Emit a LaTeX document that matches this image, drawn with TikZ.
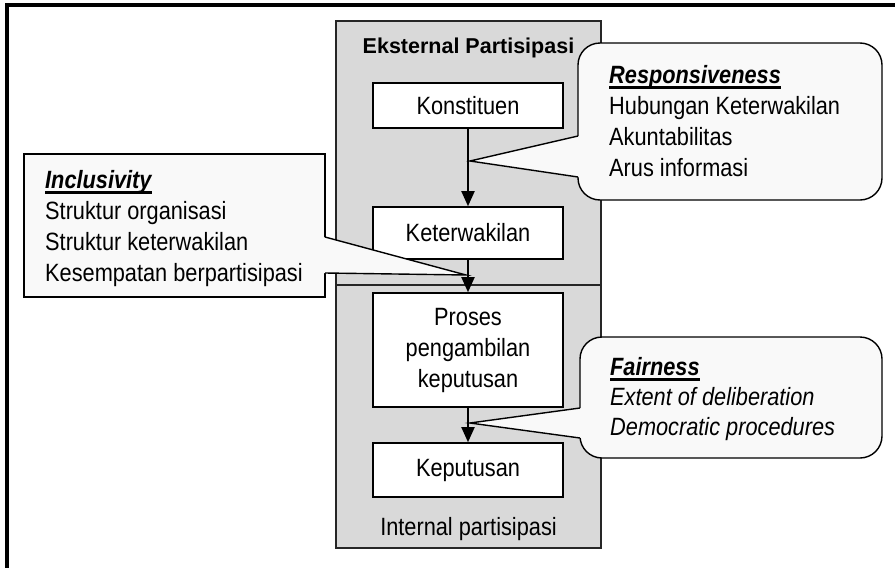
\documentclass[tikz,border=0pt]{standalone}
\usepackage{fontspec}
\setmainfont{Liberation Sans}[FakeStretch=0.87]
\newfontfamily\titlefont{Liberation Sans}[FakeStretch=1.0]
\usetikzlibrary{arrows.meta}
\usetikzlibrary{positioning}
\definecolor{notefill}{gray}{0.975}
\newsavebox{\ulbox}
\newcommand{\uln}[1]{\sbox{\ulbox}{#1}\makebox[0pt][l]{\rule[-5.5pt]{\wd\ulbox}{2.4pt}}\usebox{\ulbox}}

\begin{document}
\begin{tikzpicture}[x=1pt, y=-1pt, font=\fontsize{25}{31}\selectfont,
    panel/.style={draw=black!85, line width=1.3pt, fill=black!15, minimum width=265pt},
    stepbox/.style={draw, line width=1.6pt, fill=white, minimum width=190pt, align=center, inner sep=0pt},
    flow/.style={line width=1.9pt, -{Triangle[length=15pt, width=13pt]}},
    bubble/.style={draw, line width=1.4pt, fill=notefill},
    note/.style={anchor=north west, align=left, inner sep=0pt}]

  % Fix the size of the picture
  \useasboundingbox (0,0) rectangle (895,568);
  % Draw the outer frame
  \draw[line width=4pt] (7,600) -- (7,5) -- (920,5);

  % Draw the two panels
  \node[panel, minimum height=264pt] (ext) at (468.5,153) {};
  \node[panel, minimum height=263pt] (int) at (468.5,416.5) {};
  \node[font=\titlefont\fontsize{21.5}{26}\selectfont\bfseries] (extlabel) at (468.5,47.5) {Eksternal Partisipasi};
  \node[anchor=base] (intlabel) at (468.5,535) {Internal partisipasi};

  % Draw the steps of the process
  \node[stepbox, minimum height=45pt] (kon) at (468,105.5) {Konstituen};
  \node[stepbox, minimum height=52pt] (ket) at (468,233) {Keterwakilan};
  \node[stepbox, minimum height=114pt] (pro) at (468,350) {Proses\\pengambilan\\keputusan};
  \node[stepbox, minimum height=54pt] (kep) at (468,470) {Keputusan};

  % Tips of the callouts
  \coordinate (rtip) at (470,161);
  \coordinate (itip) at (466,275);
  \coordinate (ftip) at (470,423);

  % Draw the callouts, then their pointers over the border
  \node[bubble, rounded corners=22pt, minimum width=304pt, minimum height=157pt] (rbub) at (730,121.5) {};
  \fill[notefill] (579.5,136) -- (rtip) -- (579.5,177) -- cycle;
  \draw[line width=1.4pt] (578,136) -- (rtip) -- (578,177);

  \node[bubble, minimum width=301pt, minimum height=143pt] (ibub) at (174.5,225.5) {};
  \fill[notefill] (323.5,237) -- (itip) -- (323.5,273) -- cycle;
  \draw[line width=1.4pt] (325,237) -- (itip) -- (325,273);

  \node[bubble, rounded corners=22pt, minimum width=302pt, minimum height=121pt] (fbub) at (731,397.5) {};
  \fill[notefill] (581.5,408) -- (ftip) -- (581.5,438) -- cycle;
  \draw[line width=1.4pt] (580,408) -- (ftip) -- (580,438);

  % Texts of the callouts
  \node[note] (resp) at (609,65) {\uln{\bfseries\itshape Responsiveness}\\Hubungan Keterwakilan\\Akuntabilitas\\Arus informasi};
  \node[note] (incl) at (45,170) {\uln{\bfseries\itshape Inclusivity}\\Struktur organisasi\\Struktur keterwakilan\\Kesempatan berpartisipasi};
  \node[note, font=\fontsize{25}{30}\selectfont\itshape] (fair) at (610,357) {\uln{\bfseries Fairness}\\Extent of deliberation\\Democratic procedures};

  % Draw the arrows between the steps
  \foreach \a/\b in {kon/ket, ket/pro, pro/kep}
    \draw[flow] (\a) -- (\b);
\end{tikzpicture}
\end{document}
